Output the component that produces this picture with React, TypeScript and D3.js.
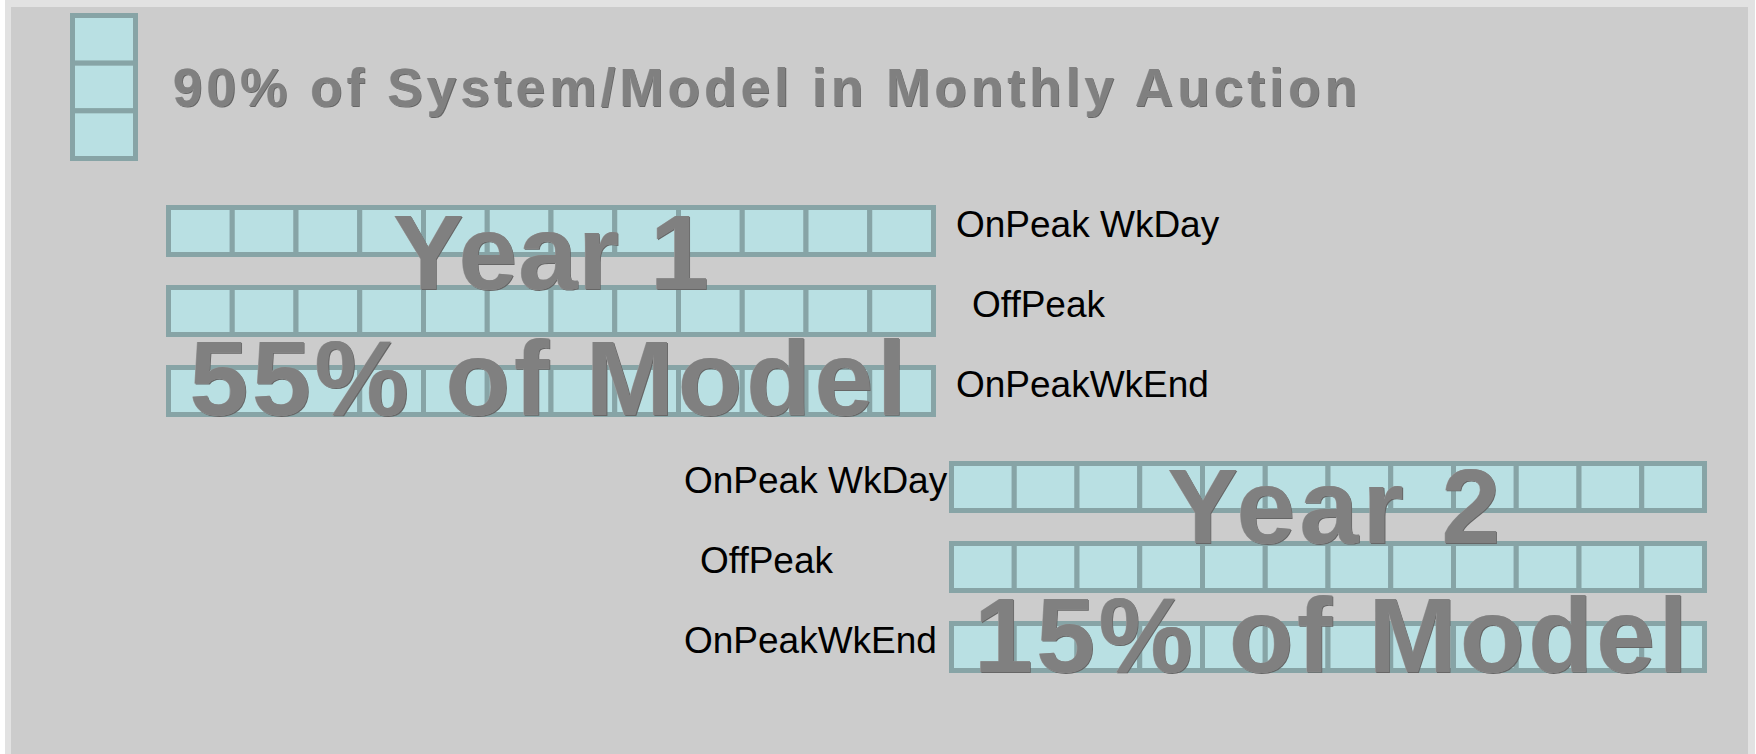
import React from "react";
import * as d3 from "d3";

const months = ["Jan", "Feb", "Mar", "Apr", "May", "Jun", "Jul", "Aug", "Sep", "Oct", "Nov", "Dec"];
const periods = ["OnPeak WkDay", "OffPeak", "OnPeakWkEnd"];
const periodIndent = [0, 16, 0];
const yearLabels = ["Year 1", "Year 2"];
const modelShares = [55, 15];
const auctionShare = 90;
const titleText = `${auctionShare}% of System/Model in Monthly Auction`;

const W = 1756;
const H = 754;
const FILL = "#b9e0e3";
const STROKE = "#87a4a6";
const SW = 5;
const FONT = "'Liberation Sans', Arial, Helvetica, sans-serif";

type Block = {
  x: [number, number];
  y: [number, number];
  labelX: number;
  textDx: number;
  yearBase: number;
  shareBase: number;
  yearLen: number;
  shareLen: number;
};

const blocks: Block[] = [
  { x: [166, 936], y: [205, 417], labelX: 956, textDx: 0, yearBase: 289, shareBase: 415, yearLen: 316, shareLen: 717 },
  { x: [949, 1707], y: [461, 673], labelX: 684, textDx: 6, yearBase: 543, shareBase: 672, yearLen: 333, shareLen: 714 },
];

function Emboss({ x, y, size, text, len, anchor = "middle", adjust = "spacing" }: any) {
  const common = {
    fontFamily: FONT,
    fontWeight: 700,
    fontSize: size,
    textAnchor: anchor,
    textLength: len,
    lengthAdjust: adjust,
  } as any;
  return (
    <g>
      <text x={x + 0.8} y={y + 1.2} fill="#666666" {...common}>{text}</text>
      <text x={x - 0.5} y={y - 0.5} fill="#a0a0a0" {...common}>{text}</text>
      <text x={x} y={y} fill="#808080" {...common}>{text}</text>
    </g>
  );
}

function YearBlock({ b, yi }: { b: Block; yi: number }) {
  const xs = d3.scaleBand<string>().domain(months).range([b.x[0] + SW / 2, b.x[1] - SW / 2]).padding(0);
  const ys = d3.scaleBand<string>().domain(periods).range(b.y).paddingInner(0.35).paddingOuter(0);
  const cx = (b.x[0] + b.x[1]) / 2 + b.textDx;
  return (
    <g>
      {periods.map((p, pi) => {
        const top = ys(p)!;
        return (
          <g key={p}>
            <rect x={b.x[0] + SW / 2} y={top + SW / 2} width={b.x[1] - b.x[0] - SW} height={ys.bandwidth() - SW}
              fill={FILL} stroke={STROKE} strokeWidth={SW} rx={3} />
            {months.map((m) => (
              <rect key={m} x={xs(m)!} y={top + SW / 2} width={xs.bandwidth()} height={ys.bandwidth() - SW}
                fill={FILL} stroke={STROKE} strokeWidth={SW} />
            ))}
            <text x={b.labelX + periodIndent[pi]} y={top + 32} fontFamily={FONT} fontSize={37} fill="#000">{p}</text>
          </g>
        );
      })}
      <Emboss x={cx} y={b.yearBase} size={106} text={yearLabels[yi]} len={b.yearLen} />
      <Emboss x={cx - 3} y={b.shareBase} size={106} text={`${modelShares[yi]}% of Model`} len={b.shareLen} />
    </g>
  );
}

export default function App() {
  const stack = d3.scaleBand<string>().domain(periods).range([13 + SW / 2, 161 - SW / 2]).padding(0);
  return (
    <svg width={W} height={H} style={{ position: "absolute", left: 0, top: 0, display: "block" }}>
      <rect x={0} y={0} width={W} height={H} fill="#ffffff" />
      <rect x={5} y={0} width={1750} height={H} fill="#e2e2e2" />
      <rect x={11} y={7} width={1737} height={H - 7} fill="#cccccc" />
      <rect x={70 + SW / 2} y={13 + SW / 2} width={68 - SW} height={148 - SW} fill={FILL} stroke={STROKE} strokeWidth={SW} rx={3} />
      {periods.map((p) => (
        <rect key={p} x={70 + SW / 2} y={stack(p)!} width={68 - SW} height={stack.bandwidth()} fill={FILL} stroke={STROKE} strokeWidth={SW} />
      ))}
      <Emboss x={173} y={106} size={53} text={titleText} len={1184} anchor="start" adjust="spacing" />
      {blocks.map((b, i) => (
        <YearBlock key={i} b={b} yi={i} />
      ))}
    </svg>
  );
}
